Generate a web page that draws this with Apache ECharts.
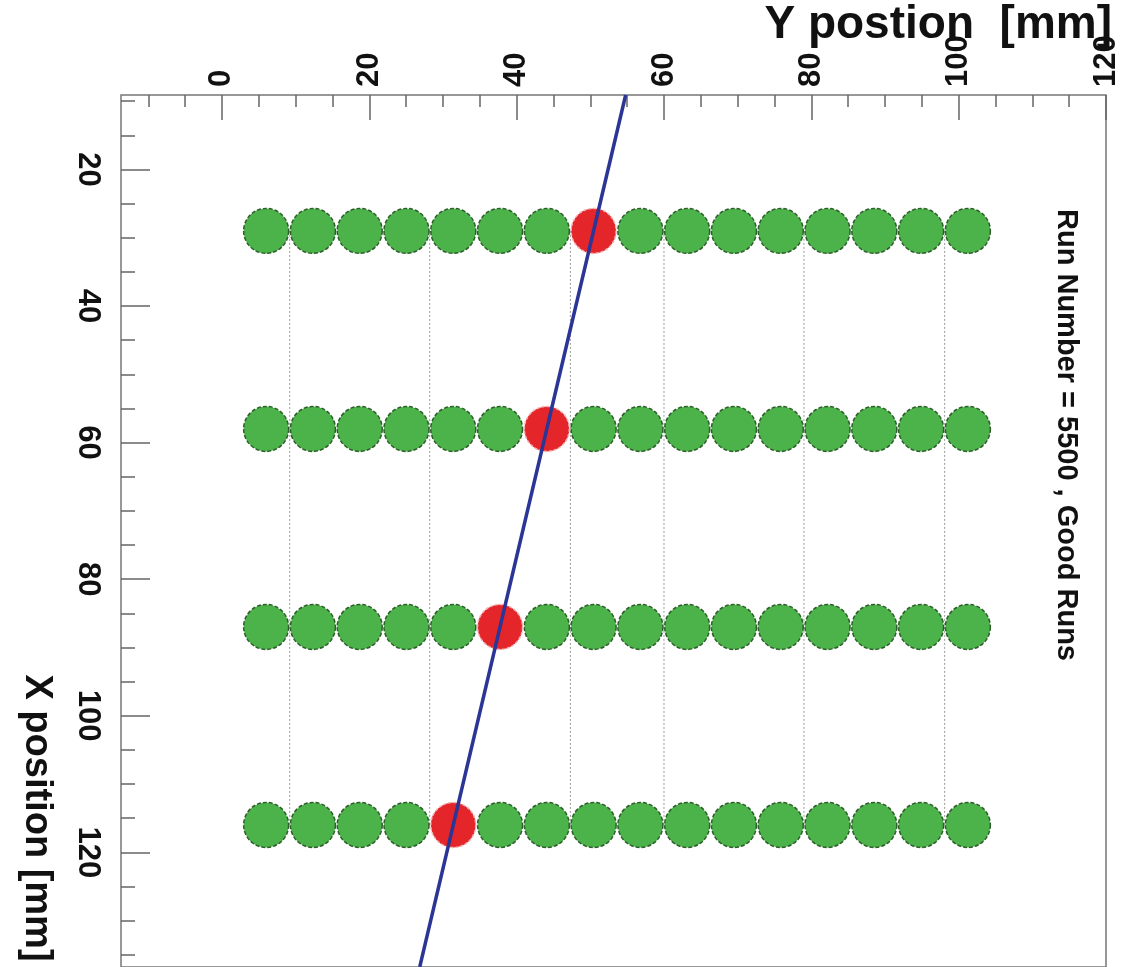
<!DOCTYPE html>
<html><head><meta charset="utf-8">
<script src="https://cdn.jsdelivr.net/npm/echarts@6/dist/echarts.min.js"></script>
<style>html,body{margin:0;padding:0;background:#fff}#c{width:1130px;height:967px}</style>
</head><body><div id="c"></div>
<script>
// X position of the four detector layers [mm] (vertical axis, increasing downward)
const layerX = [29, 58, 87, 116];
// Y position of the 16 tubes in each layer [mm] (horizontal axis)
const tubeY = [6.0, 12.35, 18.7, 25.05, 31.4, 37.75, 44.1, 50.45, 56.8, 63.15, 69.5, 75.85, 82.2, 88.55, 94.9, 101.25];
// index of the hit tube in each layer
const hitTube = [7, 6, 5, 4];
// dotted separator lines between tube groups (Y position)
const separatorY = [9.2, 28.2, 47.3, 60.0, 79.0, 98.1];
// fitted track end points
const trackX = [9.1, 136.8];
const trackY = [54.8, 26.85];
// tick values
const yPosMajor = [0, 20, 40, 60, 80, 100, 120];
const yPosMinor = [-10, -5, 0, 5, 10, 15, 20, 25, 30, 35, 40, 45, 50, 55, 60, 65, 70, 75, 80, 85, 90, 95, 100, 105, 110, 115, 120];
const xPosMajor = [20, 40, 60, 80, 100, 120];
const xPosMinor = [10, 15, 20, 25, 30, 35, 40, 45, 50, 55, 60, 65, 70, 75, 80, 85, 90, 95, 100, 105, 110, 115, 120, 125, 130, 135];

const FONT = '"Liberation Sans", Arial, sans-serif';

const green = [], red = [];
layerX.forEach((x, i) => {
  tubeY.forEach((y, j) => {
    if (j === hitTube[i]) red.push([y, x]); else green.push([y, x]);
  });
});

const sepSeries = separatorY.map(s => ({
  type: 'line', xAxisIndex: 0, yAxisIndex: 0, symbol: 'none', silent: true, z: 1,
  data: [[s, layerX[0]], [s, layerX[layerX.length - 1]]],
  lineStyle: { color: '#9a9a9a', width: 1, type: [2, 2] }
}));

const tickStyle = { color: '#666', width: 1.5 };
const labelStyle = { color: '#111', fontSize: 31, fontWeight: 'bold', fontFamily: FONT };

const option = {
  animation: false,
  backgroundColor: '#fff',
  grid: { left: 121, top: 95, width: 985, height: 880, show: true, borderColor: '#777', borderWidth: 1.5, backgroundColor: 'transparent' },
  xAxis: [
    { type: 'value', position: 'top', min: -13.7, max: 120,
      axisLine: { show: false, onZero: false }, splitLine: { show: false },
      axisTick: { inside: true, length: 25, lineStyle: tickStyle, customValues: yPosMajor },
      axisLabel: Object.assign({ rotate: -90, margin: 8, customValues: yPosMajor }, labelStyle) },
    { type: 'value', position: 'top', min: -13.7, max: 120,
      axisLine: { show: false, onZero: false }, splitLine: { show: false },
      axisTick: { inside: true, length: 12, lineStyle: tickStyle, customValues: yPosMinor },
      axisLabel: { show: false } }
  ],
  yAxis: [
    { type: 'value', position: 'left', inverse: true, min: 9.1, max: 136.8,
      axisLine: { show: false, onZero: false }, splitLine: { show: false },
      axisTick: { inside: true, length: 29, lineStyle: tickStyle, customValues: xPosMajor },
      axisLabel: Object.assign({ rotate: -90, margin: 18, customValues: xPosMajor }, labelStyle) },
    { type: 'value', position: 'left', inverse: true, min: 9.1, max: 136.8,
      axisLine: { show: false, onZero: false }, splitLine: { show: false },
      axisTick: { inside: true, length: 14, lineStyle: tickStyle, customValues: xPosMinor },
      axisLabel: { show: false } }
  ],
  series: sepSeries.concat([
    { type: 'scatter', xAxisIndex: 0, yAxisIndex: 0, symbolSize: 45, z: 3, data: green,
      itemStyle: { color: '#4cb24a', borderColor: '#2d5f2a', borderWidth: 1.5, borderType: [4, 2], opacity: 1 } },
    { type: 'scatter', xAxisIndex: 0, yAxisIndex: 0, symbolSize: 45, z: 3, data: red,
      itemStyle: { color: '#e4262b', borderColor: '#f3b5b5', borderWidth: 1.5, borderType: [3, 2], opacity: 1 } },
    { type: 'line', xAxisIndex: 0, yAxisIndex: 0, symbol: 'none', z: 5,
      data: trackX.map((x, i) => [trackY[i], x]),
      lineStyle: { color: '#2b3596', width: 3.5 } }
  ]),
  graphic: [
    { type: 'text', right: 18, top: 2, z: 10,
      style: { text: 'Y postion  [mm]', fill: '#111', font: 'bold 46px ' + FONT } },
    { type: 'text', x: 36, y: 818, rotation: -Math.PI / 2, z: 10,
      style: { text: 'X position [mm]', fill: '#111', font: 'bold 38px ' + FONT, textAlign: 'center', textVerticalAlign: 'middle' } },
    { type: 'text', x: 1066, y: 435, rotation: -Math.PI / 2, z: 10,
      style: { text: 'Run Number = 5500 , Good Runs', fill: '#111', font: 'bold 29px ' + FONT, textAlign: 'center', textVerticalAlign: 'middle' } }
  ]
};
const chart = echarts.init(document.getElementById('c'));
chart.setOption(option);
</script>
</body></html>
